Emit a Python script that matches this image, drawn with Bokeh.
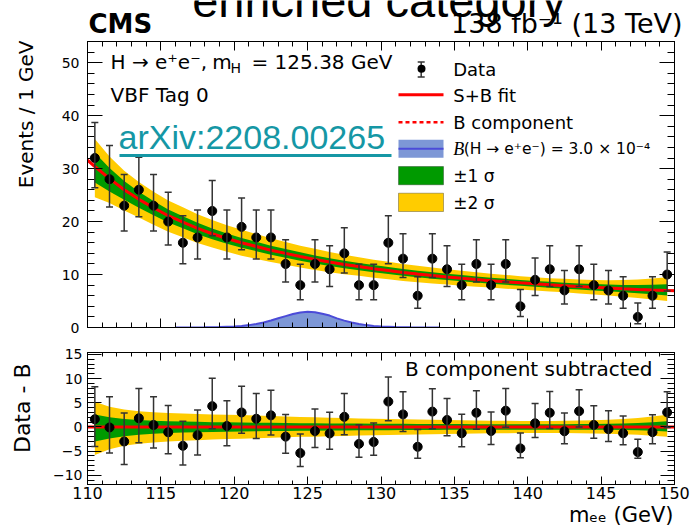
import numpy as np
from math import exp, sqrt, pi
from bokeh.plotting import figure
from bokeh.layouts import column, row
from bokeh.models import (ColumnDataSource, Whisker, TeeHead, Label, BoxAnnotation,
                          Arrow, LinearAxis, SingleIntervalTicker, Range1d)
from bokeh.embed import file_html
from bokeh.resources import INLINE

# ---------------------------------------------------------------- data
bin_centers = np.arange(110.5, 150.0, 1.0)          # 1 GeV bins, 110-150 GeV

events = [32, 28, 23, 26, 23, 20, 16, 17, 22, 17,
          19, 17, 17, 12, 8, 12, 11, 14, 8, 8,
          16, 13, 6, 13, 11, 8, 12, 8, 12, 4,
          9, 11, 7, 11, 8, 7, 6, 2, 6, 10]

# background-only fit evaluated at the bin centres
bkg_fit = [30.4, 28.1, 26.0, 24.2, 22.6, 21.1, 19.9, 18.7, 17.7, 16.8,
           16.0, 15.3, 14.6, 14.0, 13.4, 12.85, 12.35, 11.9, 11.5, 11.1,
           10.75, 10.4, 10.1, 9.82, 9.55, 9.3, 9.06, 8.84, 8.63, 8.43,
           8.24, 8.06, 7.89, 7.73, 7.58, 7.44, 7.31, 7.19, 7.08, 6.98]
# fit value at the range edges
edge_mass = [110.0, 150.0]
edge_bkg = [31.6, 6.93]

# fit uncertainty bands (half widths above / below the fit)
band1_up = [2.6, 2.0, 1.65, 1.45, 1.3, 1.2, 1.12, 1.06, 1.0, 0.96,
            0.92, 0.88, 0.85, 0.82, 0.79, 0.76, 0.74, 0.72, 0.70, 0.68,
            0.66, 0.64, 0.62, 0.61, 0.60, 0.59, 0.58, 0.57, 0.56, 0.56,
            0.56, 0.56, 0.57, 0.59, 0.62, 0.66, 0.72, 0.82, 0.98, 1.2]
band1_dn = [3.0, 2.4, 1.9, 1.6, 1.4, 1.26, 1.16, 1.08, 1.02, 0.97,
            0.92, 0.88, 0.85, 0.82, 0.79, 0.76, 0.74, 0.72, 0.70, 0.68,
            0.66, 0.64, 0.62, 0.61, 0.60, 0.59, 0.58, 0.57, 0.56, 0.56,
            0.56, 0.56, 0.56, 0.57, 0.58, 0.60, 0.64, 0.70, 0.80, 0.92]
band2_up = [5.2, 4.2, 3.6, 3.25, 3.05, 2.9, 2.8, 2.7, 2.6, 2.5,
            2.45, 2.35, 2.25, 2.15, 2.05, 2.0, 1.9, 1.85, 1.75, 1.7,
            1.65, 1.6, 1.55, 1.5, 1.45, 1.4, 1.35, 1.3, 1.3, 1.25,
            1.25, 1.25, 1.3, 1.35, 1.4, 1.5, 1.65, 1.85, 2.15, 2.5]
band2_dn = [5.8, 4.6, 3.9, 3.45, 3.2, 3.0, 2.85, 2.75, 2.6, 2.5,
            2.45, 2.35, 2.25, 2.15, 2.05, 2.0, 1.9, 1.85, 1.75, 1.7,
            1.65, 1.6, 1.55, 1.5, 1.45, 1.4, 1.35, 1.3, 1.3, 1.25,
            1.25, 1.25, 1.25, 1.3, 1.35, 1.4, 1.5, 1.6, 1.8, 2.0]

# signal template for B(H->ee) = 3.0e-4
sig_mass = [116, 118, 119, 120, 120.5, 121, 121.5, 122, 122.5, 123, 123.5, 124,
            124.5, 125, 125.5, 126, 126.5, 127, 127.5, 128, 128.5, 129, 129.5,
            130, 131, 132, 134]
sig_yield = [0.01, 0.04, 0.09, 0.2, 0.3, 0.45, 0.68, 0.95, 1.33, 1.75, 2.15, 2.55,
             2.82, 2.96, 2.88, 2.6, 2.25, 1.72, 1.3, 0.95, 0.66, 0.45, 0.3,
             0.2, 0.09, 0.04, 0.01]

FONT = "DejaVu Sans"
YELLOW, GREEN, RED = "#ffcc00", "#009a00", "#ff0000"
SIG_FILL, SIG_LINE = "#7d97d6", "#4b4bd8"
BAR = "#333333"
LINK = "#1597a5"

STRIP_W = 45                 # width of the strip holding the vertical titles
MAIN_W = 691 - STRIP_W


# ------------------------------------------------- Poisson (Garwood) errors
def poisson_cdf(n, mu):
    term = exp(-mu)
    total = term
    for k in range(1, n + 1):
        term *= mu / k
        total += term
    return total


def solve_decreasing(f, target, lo, hi):
    for _ in range(100):
        mid = 0.5 * (lo + hi)
        if f(mid) > target:
            lo = mid
        else:
            hi = mid
    return 0.5 * (lo + hi)


def garwood(n, cl=0.682689):
    a = 0.5 * (1.0 - cl)
    up = solve_decreasing(lambda mu: poisson_cdf(n, mu), a, 0.0, n + 10 * sqrt(n + 1) + 10)
    if n == 0:
        return 0.0, up
    lo = solve_decreasing(lambda mu: poisson_cdf(n - 1, mu), 1 - a, 0.0, float(n))
    return lo, up


ev = np.array(events, dtype=float)
bkg = np.array(bkg_fit)
intervals = [garwood(n) for n in events]
err_lo = np.array([i[0] for i in intervals])
err_hi = np.array([i[1] for i in intervals])

curve_mass = np.concatenate([[edge_mass[0]], bin_centers, [edge_mass[1]]])
curve_bkg = np.concatenate([[edge_bkg[0]], bkg, [edge_bkg[1]]])

b1u, b1d = np.array(band1_up), np.array(band1_dn)
b2u, b2d = np.array(band2_up), np.array(band2_dn)


# ------------------------------------------------------------ helpers
def style_ticks(ax, major, minor):
    ax.major_tick_in, ax.major_tick_out = major, 0
    ax.minor_tick_in, ax.minor_tick_out = minor, 0
    ax.axis_line_color = "black"
    ax.major_tick_line_color = "black"
    ax.minor_tick_line_color = "black"


def hide_labels(ax):
    ax.major_label_text_color = None
    ax.major_label_text_font_size = "1px"
    ax.major_label_standoff = 0


def add_axes(fig, x_tick, y_tick, show_x, x_major, x_minor, y_major, y_minor,
             xfs, yfs, y_standoff, y_overrides=None):
    for loc in ("below", "above"):
        ax = LinearAxis(ticker=SingleIntervalTicker(interval=x_tick, num_minor_ticks=5))
        style_ticks(ax, x_major, x_minor)
        if loc == "below" and show_x:
            ax.major_label_text_font = FONT
            ax.major_label_text_font_size = xfs
            ax.major_label_text_color = "black"
            ax.major_label_standoff = 2
        else:
            hide_labels(ax)
        fig.add_layout(ax, loc)
    for loc in ("left", "right"):
        ax = LinearAxis(ticker=SingleIntervalTicker(interval=y_tick, num_minor_ticks=5))
        style_ticks(ax, y_major, y_minor)
        if loc == "left":
            ax.major_label_text_font = FONT
            ax.major_label_text_font_size = yfs
            ax.major_label_text_color = "black"
            ax.major_label_standoff = y_standoff
            if y_overrides:
                ax.major_label_overrides = y_overrides
        else:
            hide_labels(ax)
        fig.add_layout(ax, loc)


def text(fig, sx, sy, s, size, font=FONT, **kw):
    """Label placed in px from the frame's lower-left corner (sy = bottom of text box)."""
    fig.add_layout(Label(x=sx, y=sy, x_units="screen", y_units="screen", text=s,
                         text_font=font, text_font_size=f"{size}px",
                         text_color=kw.pop("text_color", "black"), **kw))


def plain_canvas(width, height):
    """A figure without axes whose frame fills the whole canvas (for titles)."""
    fig = figure(width=width, height=height, x_range=Range1d(0, 1), y_range=Range1d(0, 1),
                 output_backend="svg", toolbar_location=None, title=None,
                 x_axis_location=None, y_axis_location=None,
                 min_border=0, frame_align=False)
    fig.grid.visible = False
    fig.outline_line_color = None
    return fig


def panel_figure(height, y_range, border_top, border_bottom):
    fig = figure(width=MAIN_W, height=height, x_range=Range1d(110, 150), y_range=y_range,
                 output_backend="svg", toolbar_location=None,
                 x_axis_location=None, y_axis_location=None,
                 min_border_left=87 - STRIP_W, min_border_right=17,
                 min_border_top=border_top, min_border_bottom=border_bottom)
    fig.grid.visible = False
    fig.outline_line_color = "black"
    return fig


def draw_points(fig, y, lo, hi):
    src = ColumnDataSource(dict(x=bin_centers, y=y, lo=lo, hi=hi))
    wh = Whisker(source=src, base="x", lower="lo", upper="hi",
                 line_color=BAR, line_width=1.5, level="annotation",
                 lower_head=TeeHead(size=7, line_color=BAR, line_width=1.5),
                 upper_head=TeeHead(size=7, line_color=BAR, line_width=1.5))
    fig.add_layout(wh)
    fig.scatter("x", "y", source=src, size=9, color="black", marker="circle")


def sbox(fig, l, r, b, t, fill, line=None, radius=0):
    fig.add_layout(BoxAnnotation(left=l, right=r, bottom=b, top=t,
                                 left_units="screen", right_units="screen",
                                 bottom_units="screen", top_units="screen",
                                 fill_color=fill, fill_alpha=1,
                                 line_color=line, line_width=1, border_radius=radius))


def sline(fig, x0, y0, x1, y1, color, width, dash="solid", heads=False):
    if heads:
        kw = dict(start=TeeHead(size=7, line_color=color, line_width=width),
                  end=TeeHead(size=7, line_color=color, line_width=width))
    else:
        kw = dict(start=None, end=None)
    fig.add_layout(Arrow(x_start=x0, y_start=y0, x_end=x1, y_end=y1,
                         start_units="screen", end_units="screen",
                         line_color=color, line_width=width, line_dash=dash, **kw))


# ------------------------------------------------------------ header strip
header = plain_canvas(MAIN_W, 38)
text(header, 333.5, 12, "enriched category", 47, font="Liberation Sans", text_align="center")
text(header, 43, 0, "CMS", 26, text_font_style="bold")
text(header, 637, 0, "138 fb\u207b\u00b9 (13 TeV)", 27, text_align="right")

# ------------------------------------------------------------ main panel
top = panel_figure(302, Range1d(0, 54), 3, 13)
add_axes(top, 5, 10, False, 9, 5, 15, 7, "16px", "14px", 8)

top.varea(x=sig_mass, y1=np.zeros(len(sig_mass)), y2=sig_yield, fill_color=SIG_FILL)
top.line(sig_mass, sig_yield, line_color=SIG_LINE, line_width=2)

top.varea(x=bin_centers, y1=bkg - b2d, y2=bkg + b2u, fill_color=YELLOW)
top.varea(x=bin_centers, y1=bkg - b1d, y2=bkg + b1u, fill_color=GREEN)
top.line(curve_mass, curve_bkg, line_color=RED, line_width=3)
top.line(curve_mass, curve_bkg, line_color=RED, line_width=2, line_dash="4 3")

draw_points(top, ev, err_lo, err_hi)

# in-frame texts
text(top, 23, 266, "H \u2192 e\u207ae\u207b,", 20, text_baseline="middle")
text(top, 124.7, 266, "m", 20, text_baseline="middle")
text(top, 143, 260, "H", 14, text_baseline="middle")
text(top, 164, 266, "= 125.38 GeV", 20, text_baseline="middle")
text(top, 23, 233, "VBF Tag 0", 20, text_baseline="middle")

text(top, 31, 172, "arXiv:2208.00265", 34, font="Liberation Sans", text_color=LINK)
sbox(top, 32, 304, 170.5, 173.5, LINK)

# legend
LX0, LX1, LT = 311, 356, 365.7
sline(top, 333.7, 250.5, 333.7, 265.5, BAR, 1.5, heads=True)
sbox(top, 330, 338, 254.7, 262.7, "black", radius=4)
text(top, LT, 258, "Data", 18, text_baseline="middle")

sline(top, LX0, 232.7, LX1, 232.7, RED, 3)
text(top, LT, 232, "S+B fit", 18, text_baseline="middle")

sline(top, LX0, 205.3, LX1, 205.3, RED, 2.5, dash="4 3")
text(top, LT, 205, "B component", 18, text_baseline="middle")

sbox(top, LX0, LX1, 169.7, 187.7, SIG_FILL)
sline(top, LX0, 178.7, LX1, 178.7, SIG_LINE, 2)
text(top, LT, 178.5, "B", 18, font="Liberation Serif", text_font_style="italic",
     text_baseline="middle")
text(top, LT + 10.5, 178.5, "(H \u2192 e\u207ae\u207b) = 3.0 \u00d7 10\u207b\u2074", 15.5,
     text_baseline="middle")

sbox(top, LX0, LX1, 142.7, 161, GREEN, line="black")
text(top, LT, 151.5, "\u00b11 \u03c3", 17, text_baseline="middle")
sbox(top, LX0, LX1, 116, 134.3, YELLOW, line="black")
text(top, LT, 125, "\u00b12 \u03c3", 17, text_baseline="middle")

# ------------------------------------------------------------ ratio panel
bot = panel_figure(165, Range1d(-11.9, 15.4), 12, 21)
add_axes(bot, 5, 5, True, 8, 4, 14, 7, "16px", "14px", 5,
         y_overrides={-5: "\u22125", -10: "\u221210"})

zero_line = curve_bkg - curve_bkg
bot.varea(x=bin_centers, y1=-b2d, y2=b2u, fill_color=YELLOW)
bot.varea(x=bin_centers, y1=-b1d, y2=b1u, fill_color=GREEN)
bot.line(curve_mass, zero_line, line_color=RED, line_width=3)
bot.line(curve_mass, zero_line, line_color=RED, line_width=2, line_dash="4 3")

draw_points(bot, ev - bkg, err_lo - bkg, err_hi - bkg)

text(bot, 565, 104, "B component subtracted", 20, text_align="right")

# ------------------------------------------------------------ x title strip
footer = plain_canvas(MAIN_W, 20)
text(footer, 628, -1, "m\u2091\u2091 (GeV)", 21, text_align="right")

# ------------------------------------------------------------ y title strip
side = plain_canvas(STRIP_W, 525)
text(side, 25, 485, "Events / 1 GeV", 20, angle=pi / 2, text_align="right",
     text_baseline="middle")
text(side, 22, 162, "Data - B", 22, angle=pi / 2, text_align="right",
     text_baseline="middle")

layout = row(side, column(header, top, bot, footer))
open("out.html", "w").write(file_html(layout, INLINE))
